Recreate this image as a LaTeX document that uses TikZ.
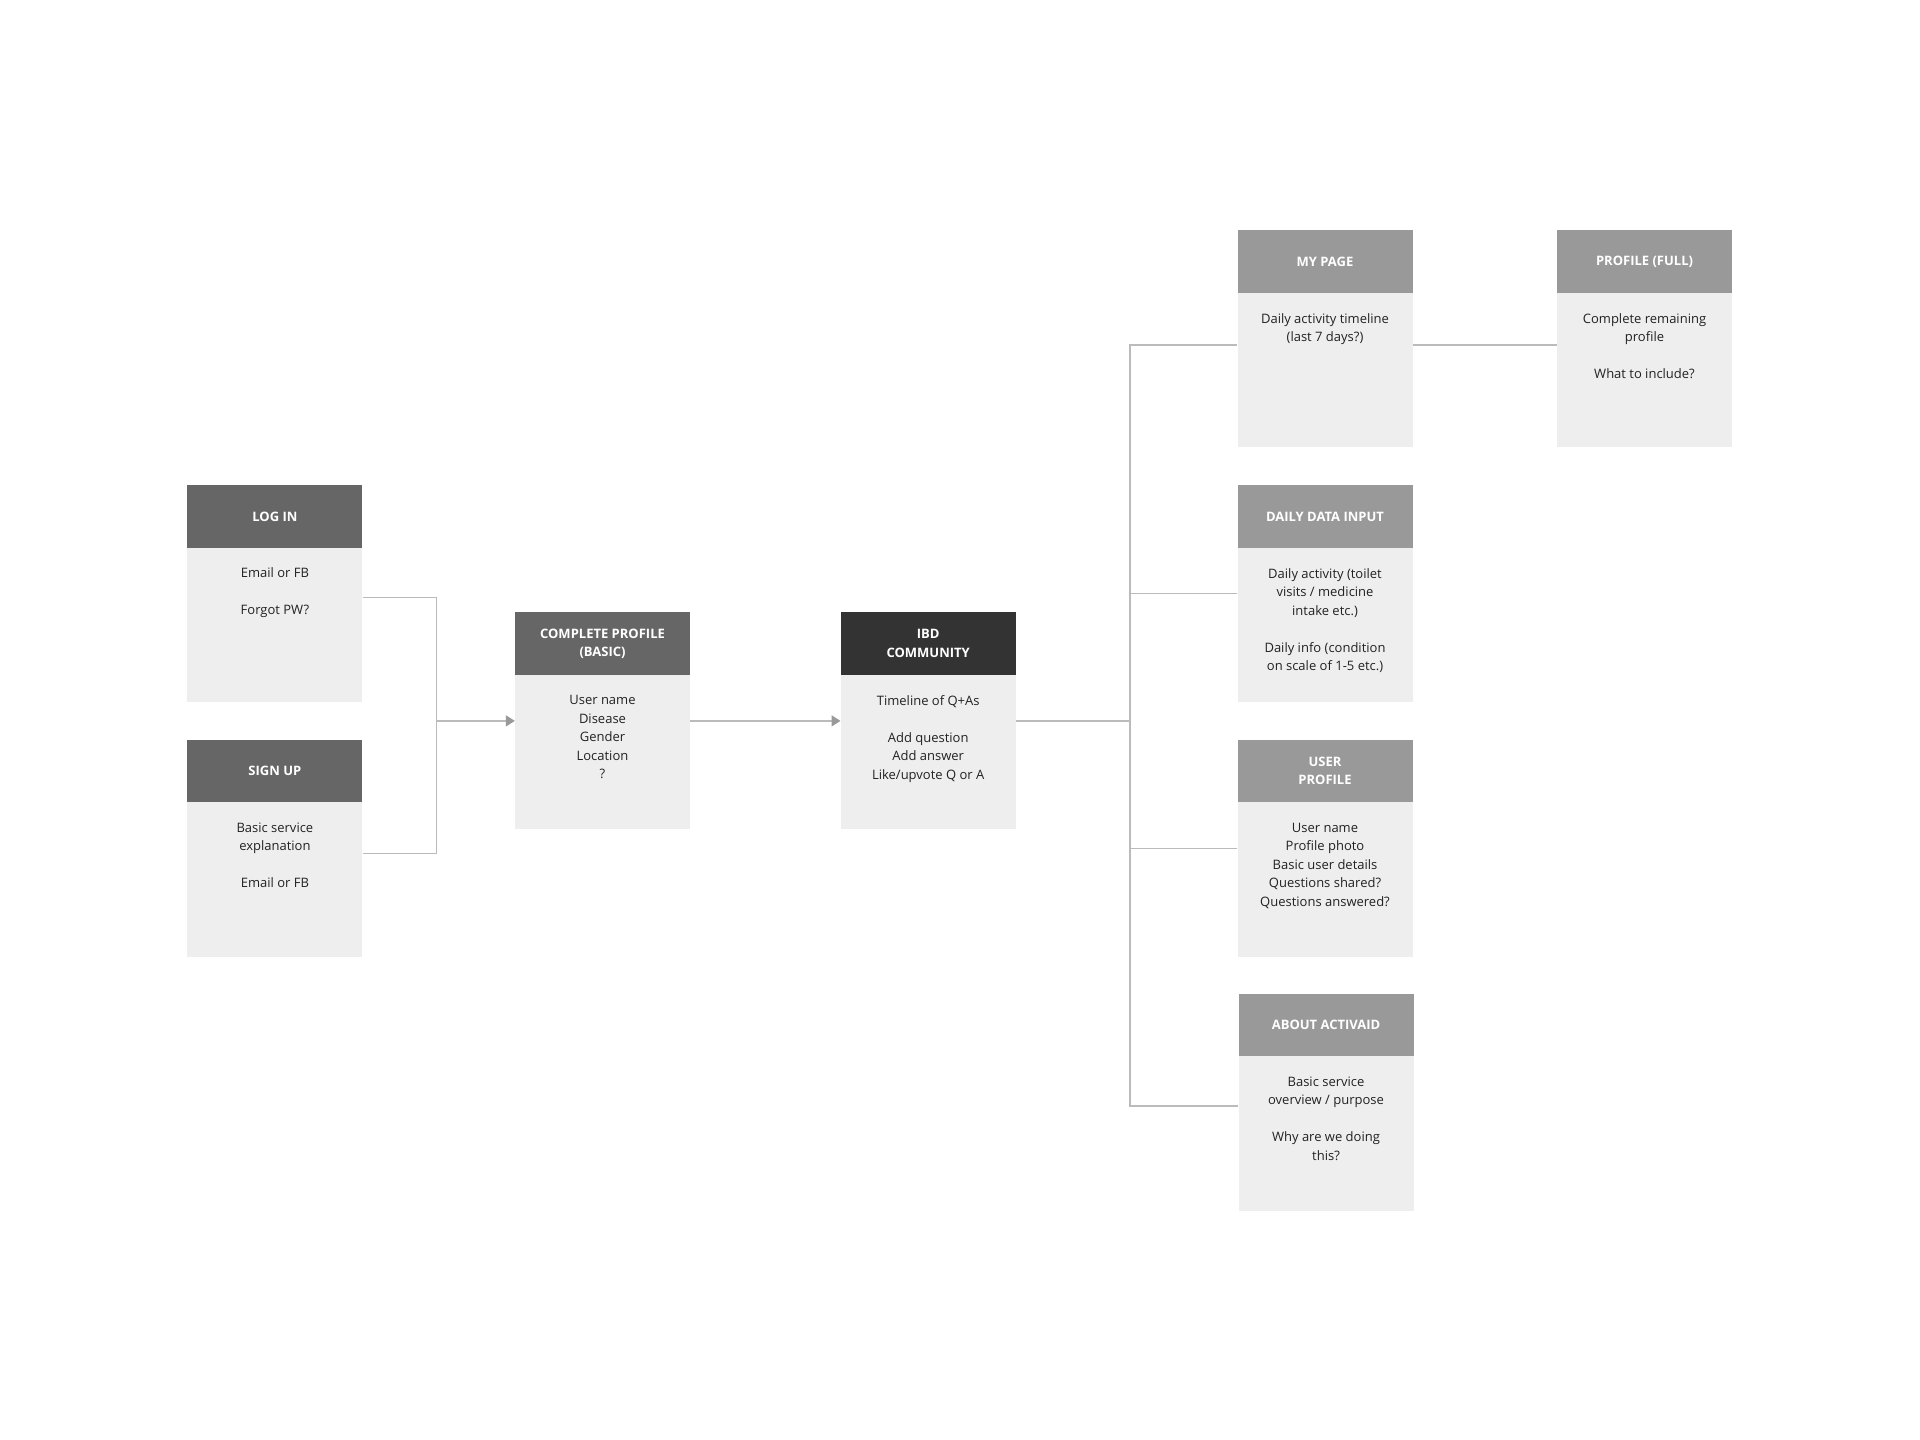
\documentclass[tikz,border=0pt]{standalone}
\usepackage{fontspec}
\setmainfont{Open Sans}
\usetikzlibrary{arrows.meta,calc}
\definecolor{hdA}{HTML}{666666}
\definecolor{hdB}{HTML}{333333}
\definecolor{hdC}{HTML}{999999}
\definecolor{bodyc}{HTML}{EEEEEE}
\definecolor{linec}{HTML}{BBBBBB}
\definecolor{arrc}{HTML}{999999}
\definecolor{txt}{HTML}{222222}
\begin{document}
\begin{tikzpicture}[x=1pt,y=-1pt,
 card/.style={fill=bodyc, draw=none, minimum width=175pt, minimum height=217pt, inner sep=0pt, anchor=north},
 hdr/.style={fill=#1, text=white, font=\bfseries\fontsize{13}{18.5}\selectfont, minimum width=175pt, minimum height=62.5pt, inner sep=0pt, anchor=north, align=center},
 bodytext/.style={text=txt, font=\fontsize{13}{18.5}\selectfont, align=center, inner sep=0pt, anchor=north},
 conn/.style={draw=linec, line width=1.5pt},
 arr/.style={conn, -{Triangle[length=9pt,width=11pt,fill=arrc,color=arrc]}}
]
\useasboundingbox[fill=white] (0,0) rectangle (1920,1440);

% LOG IN
\node[card] (login) at (274.9,484.9) {};
\node[hdr=hdA] (loginH) at (login.north) {LOG IN};
\node[bodytext] (loginT) at ($(login.north)+(0,83)$) {Email or FB\\[18.5pt]Forgot PW?};

% SIGN UP
\node[card] (signup) at (274.9,739.6) {};
\node[hdr=hdA] (signupH) at (signup.north) {SIGN UP};
\node[bodytext] (signupT) at ($(signup.north)+(0,83)$) {Basic service\\explanation\\[18.5pt]Email or FB};

% COMPLETE PROFILE
\node[card] (complete) at (602.5,612.2) {};
\node[hdr=hdA] (completeH) at (complete.north) {COMPLETE PROFILE\\(BASIC)};
\node[bodytext] (completeT) at ($(complete.north)+(0,83)$) {User name\\Disease\\Gender\\Location\\?};

% IBD COMMUNITY
\node[card] (ibd) at (928.2,612.2) {};
\node[hdr=hdB] (ibdH) at (ibd.north) {IBD\\COMMUNITY};
\node[bodytext] (ibdT) at ($(ibd.north)+(0,83)$) {Timeline of Q+As\\[18.5pt]Add question\\Add answer\\Like/upvote Q or A};

% MY PAGE
\node[card] (mypage) at (1325,230.2) {};
\node[hdr=hdC] (mypageH) at (mypage.north) {MY PAGE};
\node[bodytext] (mypageT) at ($(mypage.north)+(0,83)$) {Daily activity timeline\\(last 7 days?)};

% PROFILE (FULL)
\node[card] (profile) at (1644.5,230.2) {};
\node[hdr=hdC] (profileH) at (profile.north) {PROFILE (FULL)};
\node[bodytext] (profileT) at ($(profile.north)+(0,83)$) {Complete remaining\\profile\\[18.5pt]What to include?};

% DAILY DATA INPUT
\node[card] (daily) at (1325,485) {};
\node[hdr=hdC] (dailyH) at (daily.north) {DAILY DATA INPUT};
\node[bodytext] (dailyT) at ($(daily.north)+(0,83)$) {Daily activity (toilet\\visits / medicine\\intake etc.)\\[18.5pt]Daily info (condition\\on scale of 1-5 etc.)};

% USER PROFILE
\node[card] (user) at (1325,739.6) {};
\node[hdr=hdC] (userH) at (user.north) {USER\\PROFILE};
\node[bodytext] (userT) at ($(user.north)+(0,83)$) {User name\\Profile photo\\Basic user details\\Questions shared?\\Questions answered?};

% ABOUT ACTIVAID
\node[card] (about) at (1326,993.3) {};
\node[hdr=hdC] (aboutH) at (about.north) {ABOUT ACTIVAID};
\node[bodytext] (aboutT) at ($(about.north)+(0,83)$) {Basic service\\overview / purpose\\[18.5pt]Why are we doing\\this?};

% connectors, left junction
\path (complete.west) ++(-78.5,0) coordinate (jL);
\draw[conn] ([yshift=-4pt]login.east) -| (jL) |- ([yshift=-5pt]signup.east);
\draw[arr] (jL) -- (complete.west);
\draw[arr] (complete.east) -- (ibd.west);

% right trunk
\path (ibd.east) ++(114,0) coordinate (jR);
\draw[conn] (ibd.east) -- (jR);
\draw[conn] ([yshift=-6pt]mypage.west) -| (jR) |- ([yshift=-4pt]about.west);
\draw[conn] (daily.west) -- (daily.west -| jR);
\draw[conn] (user.west) -- (user.west -| jR);
\draw[conn] ([yshift=-6pt]mypage.east) -- ([yshift=-6pt]profile.west);
\end{tikzpicture}
\end{document}
